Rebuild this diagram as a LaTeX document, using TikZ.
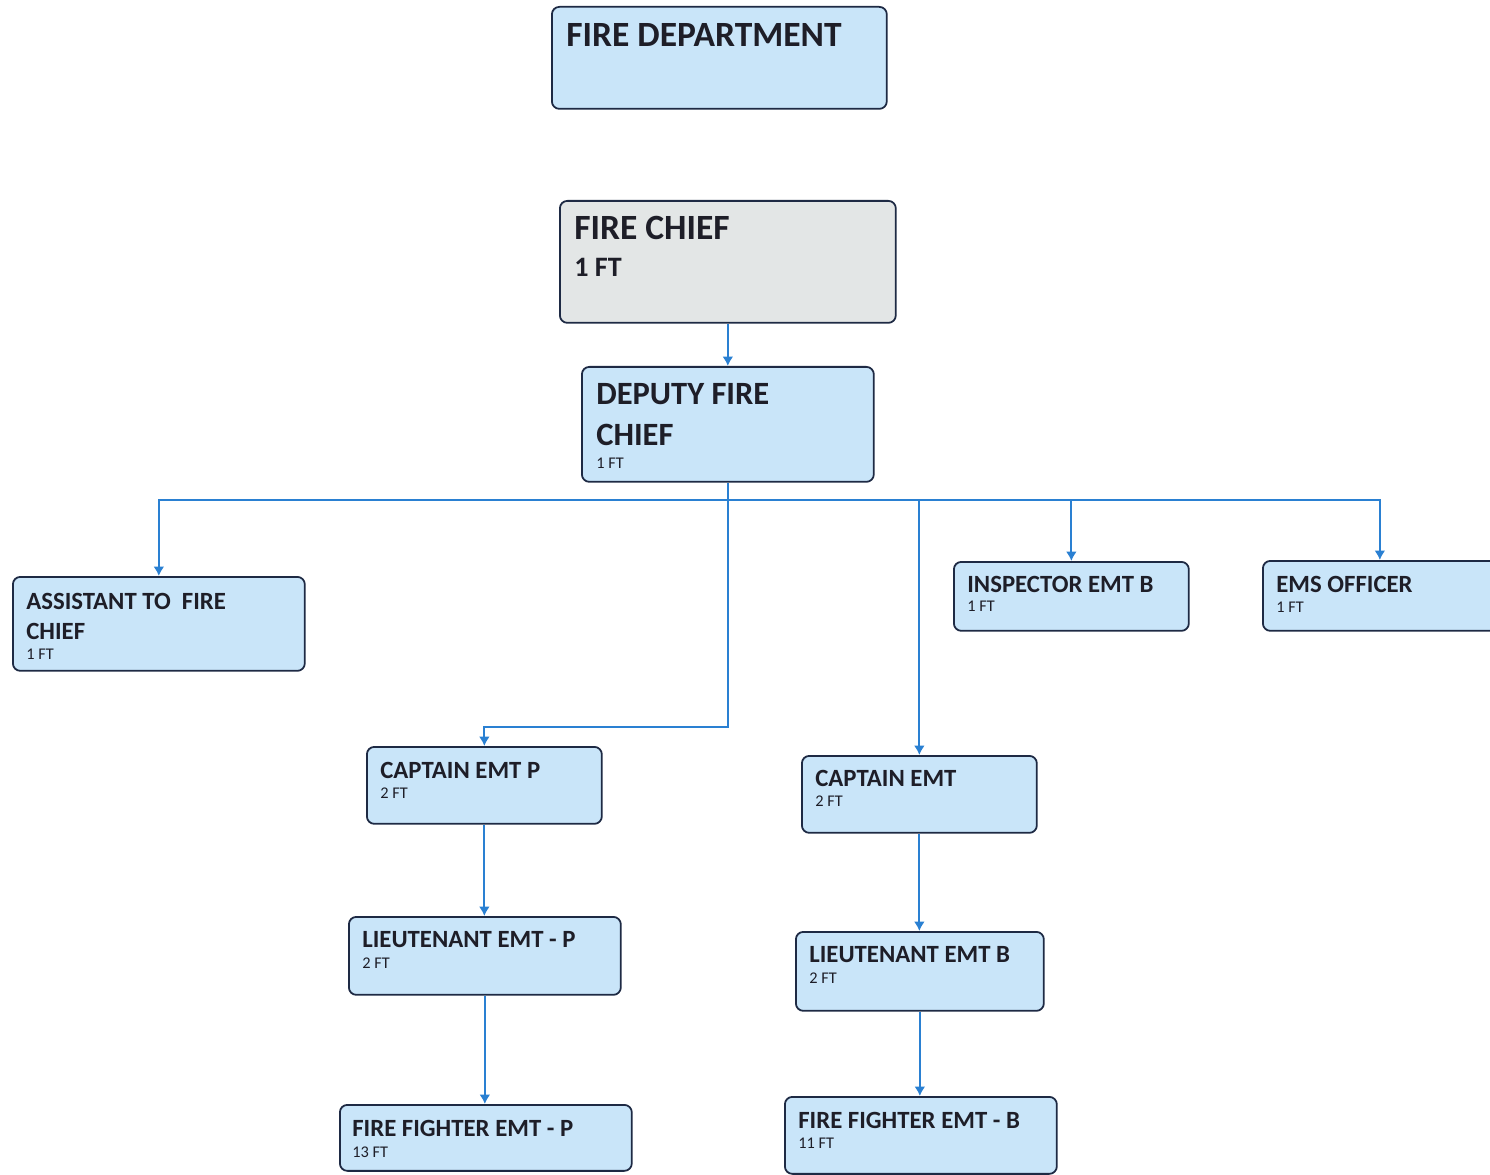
\documentclass[tikz,border=0pt]{standalone}
\usepackage{fontspec}
\setmainfont{Carlito}
\usetikzlibrary{arrows.meta}
\definecolor{boxfill}{HTML}{C9E5F9}
\definecolor{grayfill}{HTML}{E3E6E6}
\definecolor{boxline}{HTML}{1E2A44}
\definecolor{connblue}{HTML}{2A80D2}
\definecolor{txt}{HTML}{1E1E28}
\begin{document}
\begin{tikzpicture}[x=0.02cm,y=-0.02cm,
  box/.style={draw=boxline, line width=1pt, rounded corners=0.15cm, fill=boxfill, anchor=north west, inner sep=0pt},
  conn/.style={draw=connblue, line width=1.1pt, -{Latex[length=0.19cm,width=0.22cm]}},
  txtbase/.style={anchor=base west, inner sep=0pt, text=txt},
  big/.style={txtbase, font=\bfseries\fontsize{20.2}{24}\selectfont},
  deputy/.style={txtbase, font=\bfseries\fontsize{18.5}{22}\selectfont},
  bigft/.style={txtbase, font=\bfseries\fontsize{16}{19}\selectfont},
  mid/.style={txtbase, font=\bfseries\fontsize{14.1}{17}\selectfont},
  small/.style={txtbase, font=\fontsize{9.3}{11}\selectfont}]
\clip (0,0) rectangle (1490,1175);
\fill[white] (0,0) rectangle (1490,1175);

% boxes
\node[box, minimum width=6.70cm, minimum height=2.04cm] (fd) at (551,6) {};
\node[big] (fdT) at (566,47) {FIRE DEPARTMENT};

\node[box, fill=grayfill, minimum width=6.72cm, minimum height=2.44cm] (fc) at (559,200) {};
\node[big] (fcT) at (574,240) {FIRE CHIEF};
\node[bigft] (fcN) at (574,277) {1 FT};

\node[box, minimum width=5.84cm, minimum height=2.30cm] (dfc) at (581,366) {};
\node[deputy] (dfcT1) at (596,405) {DEPUTY FIRE};
\node[deputy] (dfcT2) at (596,445) {CHIEF};
\node[small] (dfcN) at (596,468) {1 FT};

\node[box, minimum width=5.84cm, minimum height=1.88cm] (atfc) at (12,576) {};
\node[mid] (atfcT1) at (26,609) {ASSISTANT TO\ \ FIRE};
\node[mid] (atfcT2) at (26,639) {CHIEF};
\node[small] (atfcN) at (26,659) {1 FT};

\node[box, minimum width=4.70cm, minimum height=1.38cm] (insp) at (953,561) {};
\node[mid] (inspT) at (967,592) {INSPECTOR EMT B};
\node[small] (inspN) at (967,611) {1 FT};

\node[box, minimum width=4.68cm, minimum height=1.40cm] (ems) at (1262,560) {};
\node[mid] (emsT) at (1276,592) {EMS OFFICER};
\node[small] (emsN) at (1276,612) {1 FT};

\node[box, minimum width=4.70cm, minimum height=1.54cm] (cep) at (366,746) {};
\node[mid] (cepT) at (380,778) {CAPTAIN EMT P};
\node[small] (cepN) at (380,798) {2 FT};

\node[box, minimum width=5.44cm, minimum height=1.56cm] (lep) at (348,916) {};
\node[mid] (lepT) at (362,947) {LIEUTENANT EMT - P};
\node[small] (lepN) at (362,968) {2 FT};

\node[box, minimum width=5.84cm, minimum height=1.32cm] (ffp) at (339,1104) {};
\node[mid] (ffpT) at (352,1136) {FIRE FIGHTER EMT - P};
\node[small] (ffpN) at (352,1157) {13 FT};

\node[box, minimum width=4.70cm, minimum height=1.54cm] (ce) at (801,755) {};
\node[mid] (ceT) at (815,786) {CAPTAIN EMT};
\node[small] (ceN) at (815,806) {2 FT};

\node[box, minimum width=4.96cm, minimum height=1.58cm] (leb) at (795,931) {};
\node[mid] (lebT) at (809,962) {LIEUTENANT EMT B};
\node[small] (lebN) at (809,983) {2 FT};

\node[box, minimum width=5.44cm, minimum height=1.54cm] (ffb) at (784,1096) {};
\node[mid] (ffbT) at (798,1128) {FIRE FIGHTER EMT - B};
\node[small] (ffbN) at (798,1148) {11 FT};

% connectors
\coordinate (bus) at (0,500);
\coordinate (jog) at (0,727);
\draw[conn] (fc.south) -- (fc.south |- dfc.north);
\draw[conn] (dfc.south) -- (dfc.south |- jog) -| (cep.north);
\draw[conn] (dfc.south |- bus) -| (atfc.north);
\draw[conn] (dfc.south |- bus) -| (ce.north);
\draw[conn] (dfc.south |- bus) -| (insp.north);
\draw[conn] (dfc.south |- bus) -| (ems.north);
\draw[conn] (cep.south) -- (cep.south |- lep.north);
\draw[conn] (lep.south) -- (lep.south |- ffp.north);
\draw[conn] (ce.south) -- (ce.south |- leb.north);
\draw[conn] (leb.south) -- (leb.south |- ffb.north);
\end{tikzpicture}
\end{document}
